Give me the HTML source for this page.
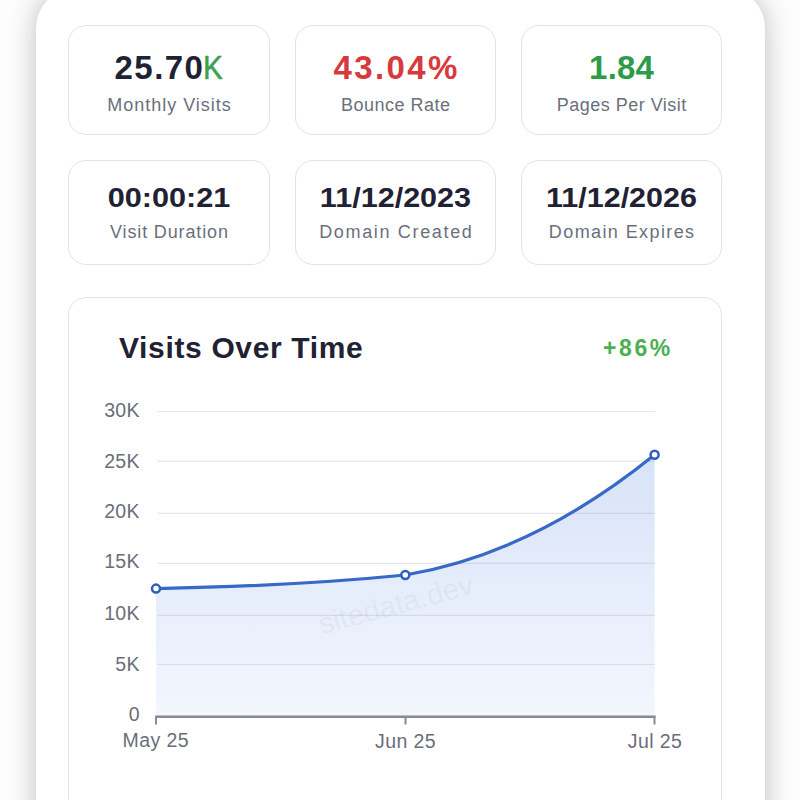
<!DOCTYPE html>
<html><head><meta charset="utf-8">
<style>
html,body{margin:0;padding:0;width:800px;height:800px;overflow:hidden;background:#fdfdfd;font-family:"Liberation Sans",Arial,sans-serif;}
.main{position:absolute;left:35.5px;top:-12px;width:729px;height:900px;background:#fff;border-radius:40px;box-shadow:0 0 28px rgba(0,0,0,0.25);}
.card{position:absolute;background:#fff;border:1.5px solid #e2e2e5;border-radius:18px;box-sizing:border-box;}
.t{position:absolute;white-space:nowrap;line-height:1;text-align:center;box-sizing:border-box;}
.v{font-weight:bold;color:#1f2233;}
.k{color:#3f9f52;font-weight:normal;-webkit-text-stroke:0.5px #3f9f52;}
.l{color:#6b6f7b;}
</style></head><body>
<div class="main"></div>
<div class="card" style="left:68px;top:25px;width:202px;height:110px"></div>
<div class="card" style="left:295px;top:25px;width:201px;height:110px"></div>
<div class="card" style="left:521px;top:25px;width:201px;height:110px"></div>
<div class="card" style="left:68px;top:160px;width:202px;height:105px"></div>
<div class="card" style="left:295px;top:160px;width:201px;height:105px"></div>
<div class="card" style="left:521px;top:160px;width:201px;height:105px"></div>
<div class="t v" style="left:69px;width:202px;top:50.5px;font-size:33px;letter-spacing:1.45px;padding-left:1.45px;color:#1f2233">25.70<span class="k" style="margin-left:-1px;display:inline-block;transform:scaleX(0.9);transform-origin:0 0">K</span></div>
<div class="t l" style="left:68px;width:202px;top:95.5px;font-size:18px;letter-spacing:1.0px;padding-left:1.0px">Monthly Visits</div>
<div class="t v" style="left:295px;width:201px;top:50.5px;font-size:33px;letter-spacing:2.4px;padding-left:2.4px;color:#d8393d">43.04%</div>
<div class="t l" style="left:295px;width:201px;top:95.5px;font-size:18px;letter-spacing:0.5px;padding-left:0.5px">Bounce Rate</div>
<div class="t v" style="left:521px;width:201px;top:50.5px;font-size:33px;letter-spacing:0.2px;padding-left:0.2px;color:#2e9b48">1.84</div>
<div class="t l" style="left:521px;width:201px;top:95.5px;font-size:18px;letter-spacing:0.5px;padding-left:0.5px">Pages Per Visit</div>
<div class="t v" style="left:68px;width:202px;top:182.5px;font-size:28.5px;letter-spacing:0px;padding-left:0px;color:#1f2233;transform:scaleX(1.075)">00:00:21</div>
<div class="t l" style="left:68px;width:202px;top:223px;font-size:18px;letter-spacing:0.87px;padding-left:0.87px">Visit Duration</div>
<div class="t v" style="left:295px;width:201px;top:182.5px;font-size:28.5px;letter-spacing:0px;padding-left:0px;color:#1f2233;transform:scaleX(1.072)">11/12/2023</div>
<div class="t l" style="left:295px;width:201px;top:223px;font-size:18px;letter-spacing:1.66px;padding-left:1.66px">Domain Created</div>
<div class="t v" style="left:521px;width:201px;top:182.5px;font-size:28.5px;letter-spacing:0px;padding-left:0px;color:#1f2233;transform:scaleX(1.07)">11/12/2026</div>
<div class="t l" style="left:521px;width:201px;top:223px;font-size:18px;letter-spacing:1.4px;padding-left:1.4px">Domain Expires</div>
<div class="card" style="left:68px;top:297.2px;width:654px;height:560px"></div>

<div class="t v" style="left:119px;top:333px;font-size:30px;letter-spacing:0.65px;text-align:left">Visits Over Time</div>
<div class="t" style="left:603px;top:336.5px;font-size:23px;letter-spacing:2.6px;font-weight:bold;color:#4caf50;text-align:left">+86%</div>

<svg style="position:absolute;left:0;top:0" width="800" height="800" viewBox="0 0 800 800">
  <defs>
    <linearGradient id="g" x1="0" y1="0" x2="0" y2="1">
      <stop offset="0" stop-color="#4d7fe0" stop-opacity="0.22"/>
      <stop offset="1" stop-color="#4d7fe0" stop-opacity="0.07"/>
    </linearGradient>
  </defs>
  <g stroke="#e6e7ea" stroke-width="1.2">
    <line x1="157.5" y1="411.5" x2="655" y2="411.5"/>
    <line x1="157.5" y1="461.4" x2="655" y2="461.4"/>
    <line x1="157.5" y1="513.4" x2="655" y2="513.4"/>
    <line x1="157.5" y1="563.4" x2="655" y2="563.4"/>
    <line x1="157.5" y1="615.3" x2="655" y2="615.3"/>
    <line x1="157.5" y1="664.5" x2="655" y2="664.5"/>
  </g>
  <path d="M156 588.6 C 238.67 587.0, 321.83 583.3, 405.3 575 C 488.33 561, 571.67 522, 654.6 454.8 L654.6 716 L156 716 Z" fill="url(#g)"/>
  <path d="M156 588.6 C 238.67 587.0, 321.83 583.3, 405.3 575 C 488.33 561, 571.67 522, 654.6 454.8" fill="none" stroke="#3769c6" stroke-width="3.2"/>
  <g fill="#fff" stroke="#2f5fb8" stroke-width="2.5">
    <circle cx="156" cy="588.6" r="4"/>
    <circle cx="405.3" cy="575" r="4"/>
    <circle cx="654.6" cy="454.8" r="4"/>
  </g>
  <g stroke="#878a94">
    <line x1="155" y1="716.8" x2="655.5" y2="716.8" stroke-width="2.5"/>
    <line x1="156" y1="716" x2="156" y2="724.5" stroke-width="2"/>
    <line x1="405.5" y1="716" x2="405.5" y2="724.5" stroke-width="2"/>
    <line x1="654.5" y1="716" x2="654.5" y2="724.5" stroke-width="2"/>
  </g>
  <g font-family="Liberation Sans, Arial, sans-serif" font-size="19.5" fill="#6b6e78" text-anchor="end" letter-spacing="0.3">
    <text x="139.8" y="417.15">30K</text>
    <text x="139.8" y="467.85">25K</text>
    <text x="139.8" y="517.70">20K</text>
    <text x="139.8" y="568.45">15K</text>
    <text x="139.8" y="620.05">10K</text>
    <text x="139.8" y="671.05">5K</text>
    <text x="139.8" y="721.25">0</text>
  </g>
  <g font-family="Liberation Sans, Arial, sans-serif" font-size="19.5" fill="#6b6e78" text-anchor="middle" letter-spacing="0.4">
    <text x="155.8" y="747">May 25</text>
    <text x="405.5" y="747.5">Jun 25</text>
    <text x="655" y="747.5">Jul 25</text>
  </g>
  <text x="398.5" y="614" transform="rotate(-15 398.5 614)" font-family="Liberation Sans, Arial, sans-serif" font-size="29.5" fill="#8a8fa0" fill-opacity="0.10" text-anchor="middle">sitedata.dev</text>
</svg>
</body></html>
